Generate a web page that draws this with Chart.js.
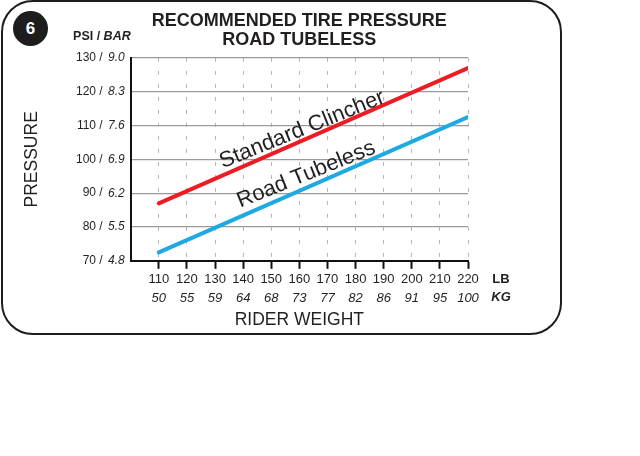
<!DOCTYPE html>
<html>
<head>
<meta charset="utf-8">
<script src="https://cdn.jsdelivr.net/npm/chart.js@4.4.1/dist/chart.umd.min.js"></script>
<style>
  html, body { margin: 0; padding: 0; background: #fff; }
  #wrap { position: absolute; left: 0; top: 0; width: 640px; height: 456px; }
  #card {
    position: absolute; left: 1px; top: 0px; width: 557px; height: 331px;
    border: 2.5px solid #1d1d1d; border-radius: 32px;
  }
  #badge {
    position: absolute; left: 13px; top: 11px; width: 35px; height: 35px;
    border-radius: 50%; background: #1d1d1d; color: #fff;
    font: bold 17px "Liberation Sans", Arial, sans-serif;
    text-align: center; line-height: 35px;
  }
  canvas { position: absolute; left: 0; top: 0; }
</style>
</head>
<body>
<div id="wrap">
  <div id="card"></div>
  <div id="badge">6</div>
  <canvas id="chart" width="640" height="456"></canvas>
</div>
<script>
// ---- data ----
const lbTicks = [110, 120, 130, 140, 150, 160, 170, 180, 190, 200, 210, 220];
const kgTicks = ['50', '55', '59', '64', '68', '73', '77', '82', '86', '91', '95', '100'];
const psiTicks = [70, 80, 90, 100, 110, 120, 130];
const barTicks = ['4.8', '5.5', '6.2', '6.9', '7.6', '8.3', '9.0'];

const weights = [110, 220];
const clincher = [87, 127];
const tubeless = [72.5, 112.5];

const FONT = '"Liberation Sans", Arial, sans-serif';
const INK = '#231f20';

// text sitting on the lines, in data units (the text is tilted a bit less than its line)
const lineLabels = [
    { text: 'Standard Clincher', x: 161, y: 108.8, series: 0 },
    { text: 'Road Tubeless', x: 162.4, y: 95.5, series: 1 }
];
const TILT_EASE = 0.028;

// ---- extras: units, psi/bar header, line labels ----
const extras = {
    id: 'extras',
    afterDraw(chart) {
        const ctx = chart.ctx;
        const area = chart.chartArea;
        const xs = chart.scales.x;
        const ys = chart.scales.y;

        ctx.save();
        ctx.fillStyle = INK;
        ctx.textBaseline = 'middle';

        // PSI / BAR
        ctx.textAlign = 'right';
        ctx.font = 'italic bold 12.5px ' + FONT;
        ctx.fillText('BAR', area.left, area.top - 21);
        let w = ctx.measureText('BAR').width;
        ctx.font = 'bold 12.5px ' + FONT;
        ctx.fillText('PSI / ', area.left - w, area.top - 21);

        // LB / KG
        ctx.textAlign = 'center';
        ctx.font = 'bold 13px ' + FONT;
        ctx.fillText('LB', area.right + 33, area.bottom + 19);
        ctx.font = 'italic bold 13px ' + FONT;
        ctx.fillText('KG', area.right + 33, area.bottom + 37);

        // labels along the lines
        ctx.font = '22px ' + FONT;
        lineLabels.forEach(l => {
            const ds = chart.data.datasets[l.series].data;
            const a = ds[0], b = ds[ds.length - 1];
            const ang = Math.atan2(ys.getPixelForValue(b.y) - ys.getPixelForValue(a.y),
                                   xs.getPixelForValue(b.x) - xs.getPixelForValue(a.x));
            ctx.save();
            ctx.translate(xs.getPixelForValue(l.x), ys.getPixelForValue(l.y));
            ctx.rotate(ang + TILT_EASE);
            ctx.fillText(l.text, 0, 0);
            ctx.restore();
        });
        ctx.restore();
    }
};

new Chart(document.getElementById('chart').getContext('2d'), {
    type: 'line',
    data: {
        datasets: [{
                label: 'Standard Clincher',
                data: weights.map((x, i) => ({ x: x, y: clincher[i] })),
                borderColor: '#ec1c24',
                borderWidth: 4,
                borderCapStyle: 'round',
                pointRadius: 0,
                xAxisID: 'x',
                yAxisID: 'y'
            },
            {
                label: 'Road Tubeless',
                data: weights.map((x, i) => ({ x: x, y: tubeless[i] })),
                borderColor: '#1fa9e3',
                borderWidth: 4,
                borderCapStyle: 'round',
                pointRadius: 0,
                xAxisID: 'x',
                yAxisID: 'y'
            }
        ]
    },
    options: {
        responsive: false,
        animation: false,
        layout: { padding: { left: 22, right: 172, top: 0, bottom: 125 } },
        plugins: {
            legend: { display: false },
            tooltip: { enabled: false },
            title: {
                display: true,
                fullSize: false,
                text: ['RECOMMENDED TIRE PRESSURE', 'ROAD TUBELESS'],
                color: INK,
                font: { family: FONT, size: 18, weight: 'bold', lineHeight: 1.08 },
                padding: { top: 11, bottom: 8 }
            }
        },
        scales: {
            x: {
                type: 'linear',
                position: 'bottom',
                weight: 0,
                min: 100,
                max: 220,
                ticks: {
                    stepSize: 10,
                    autoSkip: false,
                    maxRotation: 0,
                    padding: 3,
                    color: INK,
                    font: { family: FONT, size: 13 },
                    callback: v => lbTicks.includes(v) ? String(v) : ''
                },
                grid: {
                    color: c => c.tick && c.tick.value === 100 ? 'rgba(0,0,0,0)' : '#b5b5b5',
                    lineWidth: 1,
                    tickColor: c => c.tick && c.tick.value === 100 ? 'rgba(0,0,0,0)' : '#111',
                    tickWidth: 2,
                    tickLength: 8,
                    tickBorderDash: []
                },
                border: { color: '#111', width: 2, dash: [4, 9] }
            },
            xKg: {
                type: 'linear',
                axis: 'x',
                position: 'bottom',
                weight: 1,
                min: 100,
                max: 220,
                ticks: {
                    stepSize: 10,
                    autoSkip: false,
                    maxRotation: 0,
                    padding: 0,
                    color: INK,
                    font: { family: FONT, size: 13, style: 'italic' },
                    callback: v => {
                        const i = lbTicks.indexOf(v);
                        return i < 0 ? '' : kgTicks[i];
                    }
                },
                grid: { display: false, drawTicks: false },
                border: { display: false },
                title: {
                    display: true,
                    text: 'RIDER WEIGHT',
                    color: INK,
                    font: { family: FONT, size: 17.5 },
                    padding: { top: 4, bottom: 0 }
                }
            },
            y: {
                type: 'linear',
                position: 'left',
                weight: 0,
                min: 70,
                max: 130,
                afterFit: scale => { scale.width = 25; },
                ticks: {
                    stepSize: 10,
                    padding: 6,
                    color: INK,
                    font: { family: FONT, size: 12, style: 'italic' },
                    callback: v => {
                        const i = psiTicks.indexOf(v);
                        return i < 0 ? '' : barTicks[i];
                    }
                },
                grid: {
                    color: c => c.tick && c.tick.value === 70 ? 'rgba(0,0,0,0)' : '#9a9a9a',
                    lineWidth: 1.2,
                    drawTicks: false
                },
                border: { color: '#111', width: 2 }
            },
            yPsi: {
                type: 'linear',
                axis: 'y',
                position: 'left',
                weight: 1,
                min: 70,
                max: 130,
                ticks: {
                    stepSize: 10,
                    padding: 3,
                    color: INK,
                    font: { family: FONT, size: 12 },
                    callback: v => psiTicks.includes(v) ? v + ' /' : ''
                },
                grid: { display: false, drawTicks: false },
                border: { display: false },
                title: {
                    display: true,
                    text: 'PRESSURE',
                    color: INK,
                    font: { family: FONT, size: 17.5 },
                    padding: { top: 0, bottom: 30 }
                }
            }
        }
    },
    plugins: [extras]
});
</script>
</body>
</html>
